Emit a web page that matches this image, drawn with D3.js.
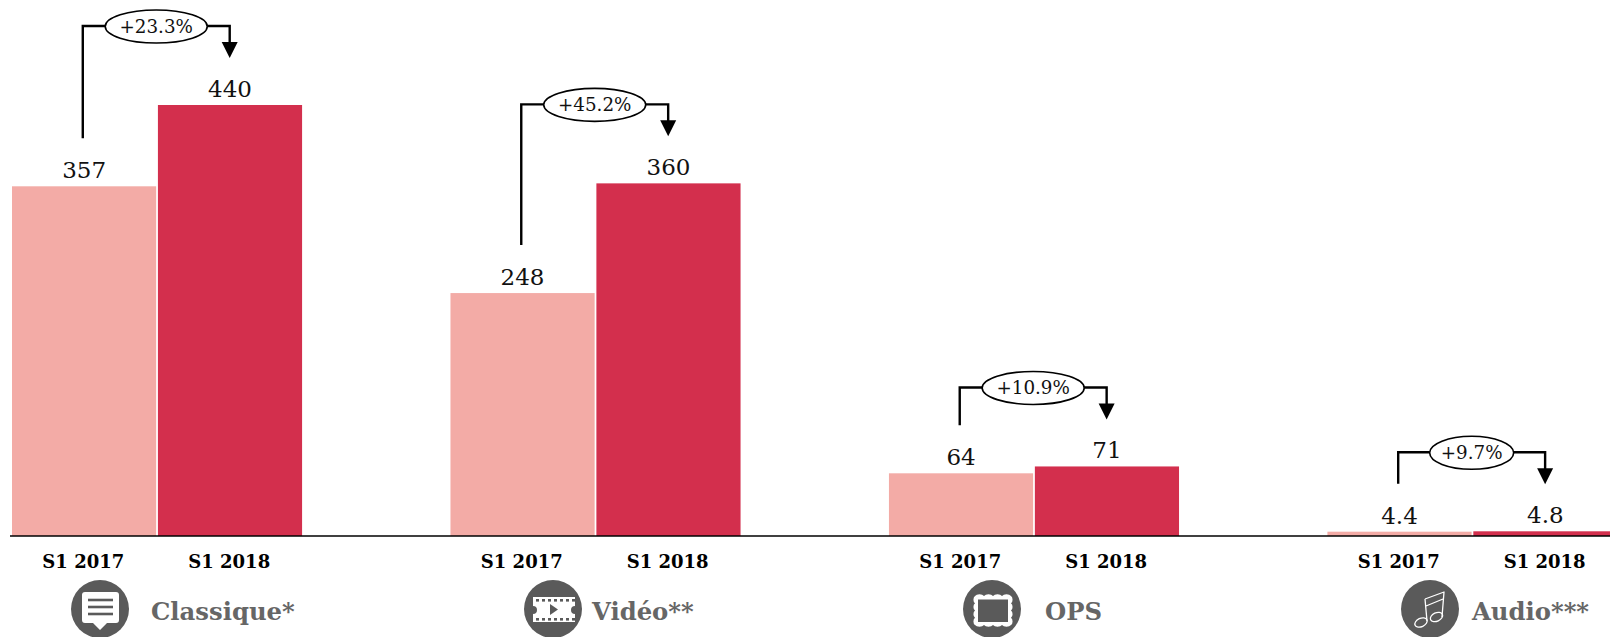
<!DOCTYPE html>
<html>
<head>
<meta charset="utf-8">
<script src="https://cdn.jsdelivr.net/npm/d3@7"></script>
<style>
    html, body { margin: 0; padding: 0; background: #fff; overflow: hidden; }
    text { font-family: "DejaVu Serif", serif; }
</style>
</head>
<body>
<svg id="chart" width="1610" height="637"></svg>
<script>
// Chart data
const categories = ["Classique*", "Vidéo**", "OPS", "Audio***"];
const periods = ["S1 2017", "S1 2018"];
const values2017 = [357, 248, 64, 4.4];
const values2018 = [440, 360, 71, 4.8];
const valueLabels2017 = ["357", "248", "64", "4.4"];
const valueLabels2018 = ["440", "360", "71", "4.8"];
const growthLabels = ["+23.3%", "+45.2%", "+10.9%", "+9.7%"];

const width = 1610, height = 637, baseline = 536;
const pink = "#f3aba6", red = "#d32f4d", grey = "#5a5a5a";

const svg = d3.select("#chart");

// Scales - last group runs past the right edge, like the original
const xGroup = d3.scaleBand()
    .domain(categories)
    .range([12, 12 + 438.5 * 3 + 291.5])
    .paddingInner(0.335)
    .paddingOuter(0)
    .align(0);

const xBar = d3.scaleBand()
    .domain(periods)
    .range([0, xGroup.bandwidth() - 1.5])
    .paddingInner(0.012);

const y = d3.scaleLinear().domain([0, 440]).range([baseline, 105]);

const rows = categories.map((c, i) => ({
    name: c,
    a: values2017[i],
    b: values2018[i],
    aLabel: valueLabels2017[i],
    bLabel: valueLabels2018[i],
    growth: growthLabels[i],
    rx: i === 3 ? 42 : 51
}));

const group = svg.selectAll("g.group")
    .data(rows)
    .join("g")
    .attr("class", "group")
    .attr("transform", d => `translate(${xGroup(d.name)},0)`);

// Bars
group.append("rect")
    .attr("x", xBar(periods[0]))
    .attr("width", xBar.bandwidth())
    .attr("y", d => y(d.a))
    .attr("height", d => y(0) - y(d.a))
    .attr("fill", pink);

group.append("rect")
    .attr("x", xBar(periods[1]))
    .attr("width", xBar.bandwidth())
    .attr("y", d => y(d.b))
    .attr("height", d => y(0) - y(d.b))
    .attr("fill", red);

// Value labels
const xMid = p => xBar(p) + xBar.bandwidth() / 2;

group.append("text")
    .attr("x", xMid(periods[0]))
    .attr("y", d => y(d.a) - 8)
    .attr("text-anchor", "middle")
    .attr("font-size", 23)
    .attr("fill", "#111")
    .text(d => d.aLabel);

group.append("text")
    .attr("x", xMid(periods[1]))
    .attr("y", d => y(d.b) - 8)
    .attr("text-anchor", "middle")
    .attr("font-size", 23)
    .attr("fill", "#111")
    .text(d => d.bLabel);

// Growth brackets
const left = xMid(periods[0]) - 1.3, right = xMid(periods[1]) - 0.3;
const mid = (left + right) / 2;

group.append("path")
    .attr("fill", "none")
    .attr("stroke", "#000")
    .attr("stroke-width", 2.4)
    .attr("d", d => `M${left},${y(d.a) - 48}V${y(d.b) - 79}H${right}V${y(d.b) - 60}`);

group.append("path")
    .attr("fill", "#000")
    .attr("d", d => `M${right - 8},${y(d.b) - 63}H${right + 8}L${right},${y(d.b) - 47}Z`);

group.append("ellipse")
    .attr("cx", mid)
    .attr("cy", d => y(d.b) - 78.5)
    .attr("rx", d => d.rx)
    .attr("ry", 16.5)
    .attr("fill", "#fff")
    .attr("stroke", "#000")
    .attr("stroke-width", 1.6);

group.append("text")
    .attr("x", mid)
    .attr("y", d => y(d.b) - 72)
    .attr("text-anchor", "middle")
    .attr("font-size", 18.3)
    .attr("fill", "#111")
    .text(d => d.growth);

// Period axis for each group
const axis = d3.axisBottom(xBar).tickSize(0).tickPadding(19);

group.append("g")
    .attr("transform", `translate(-0.8,${baseline})`)
    .call(axis)
    .call(g => g.select(".domain").remove())
    .call(g => g.selectAll("text")
        .attr("font-size", 18)
        .attr("font-weight", "bold")
        .attr("font-family", "'DejaVu Serif', serif")
        .attr("fill", "#000"));

svg.append("line")
    .attr("x1", 10).attr("x2", width)
    .attr("y1", y(0)).attr("y2", y(0))
    .attr("stroke", "#000")
    .attr("stroke-width", 1.6);

// Category footer: icon circle + name
const footerIconX = [100, 553, 992, 1430];
const footerTextX = [151, 592, 1045, 1472];
const footerY = 609;

const footer = svg.selectAll("g.footer")
    .data(categories)
    .join("g")
    .attr("class", "footer");

footer.append("circle")
    .attr("cx", (d, i) => footerIconX[i])
    .attr("cy", footerY)
    .attr("r", 29)
    .attr("fill", grey);

footer.append("text")
    .attr("x", (d, i) => footerTextX[i])
    .attr("y", footerY + 11)
    .attr("font-size", 24.3)
    .attr("font-weight", "bold")
    .attr("fill", "#666")
    .text(d => d);

const icon = i => svg.append("g").attr("transform", `translate(${footerIconX[i]},${footerY})`);

// speech bubble
const bubble = icon(0);
bubble.append("path")
    .attr("fill", "#fff")
    .attr("d", "M-15,-17H16a3,3 0 0 1 3,3V11a3,3 0 0 1 -3,3H7L0,21L-7,14H-15a3,3 0 0 1 -3,-3V-14a3,3 0 0 1 3,-3Z");
bubble.selectAll("line")
    .data([-9, -2, 5])
    .join("line")
    .attr("x1", -12).attr("x2", 13)
    .attr("y1", d => d).attr("y2", d => d)
    .attr("stroke", grey)
    .attr("stroke-width", 2.6);

// film strip
const film = icon(1);
film.append("path")
    .attr("fill", "#fff")
    .attr("d", "M-20,-12H22V-3A4,4 0 0 0 22,5V13H-20V5A4,4 0 0 0 -20,-3Z");
film.append("path")
    .attr("fill", grey)
    .attr("d", "M-3,-5L5,0.5L-3,6Z");
[-10, 9].forEach(dy => {
    film.selectAll(null)
        .data(d3.range(-17, 20, 6))
        .join("rect")
        .attr("x", d => d).attr("y", dy)
        .attr("width", 3).attr("height", 2.6)
        .attr("fill", grey);
});

// stamp
const stamp = icon(2);
const scallops = (x0, y0, x1, y1, n) => {
    const w = (x1 - x0) / n, h = (y1 - y0) / n;
    let p = `M${x0},${y0}`;
    for (let k = 0; k < n; k++) p += `a${w / 2 + 0.5},3 0 0 1 ${w},0`;
    for (let k = 0; k < n; k++) p += `a3,${h / 2 + 0.5} 0 0 1 0,${h}`;
    for (let k = 0; k < n; k++) p += `a${w / 2 + 0.5},3 0 0 1 ${-w},0`;
    for (let k = 0; k < n; k++) p += `a3,${h / 2 + 0.5} 0 0 1 0,${-h}`;
    return p + "Z";
};
stamp.append("path").attr("fill", "#fff").attr("d", scallops(-17, -13, 19, 16, 4));
stamp.append("rect")
    .attr("x", -14).attr("y", -9.5).attr("width", 30).attr("height", 22.5)
    .attr("fill", grey);

// music notes
const music = icon(3);
music.append("path")
    .attr("fill", "none")
    .attr("stroke", "#fff")
    .attr("stroke-width", 1.3)
    .attr("stroke-linejoin", "round")
    .attr("d", "M-5,-10L14,-17L12,8M-5,-10L-3,12M-4,-3L13,-10");
music.append("ellipse")
    .attr("cx", -9).attr("cy", 13.5).attr("rx", 6.5).attr("ry", 4.2)
    .attr("transform", "rotate(-25 -9 13.5)")
    .attr("fill", "none").attr("stroke", "#fff").attr("stroke-width", 1.3);
music.append("ellipse")
    .attr("cx", 6.5).attr("cy", 8).attr("rx", 6.5).attr("ry", 4.2)
    .attr("transform", "rotate(-25 6.5 8)")
    .attr("fill", "none").attr("stroke", "#fff").attr("stroke-width", 1.3);
</script>
</body>
</html>
